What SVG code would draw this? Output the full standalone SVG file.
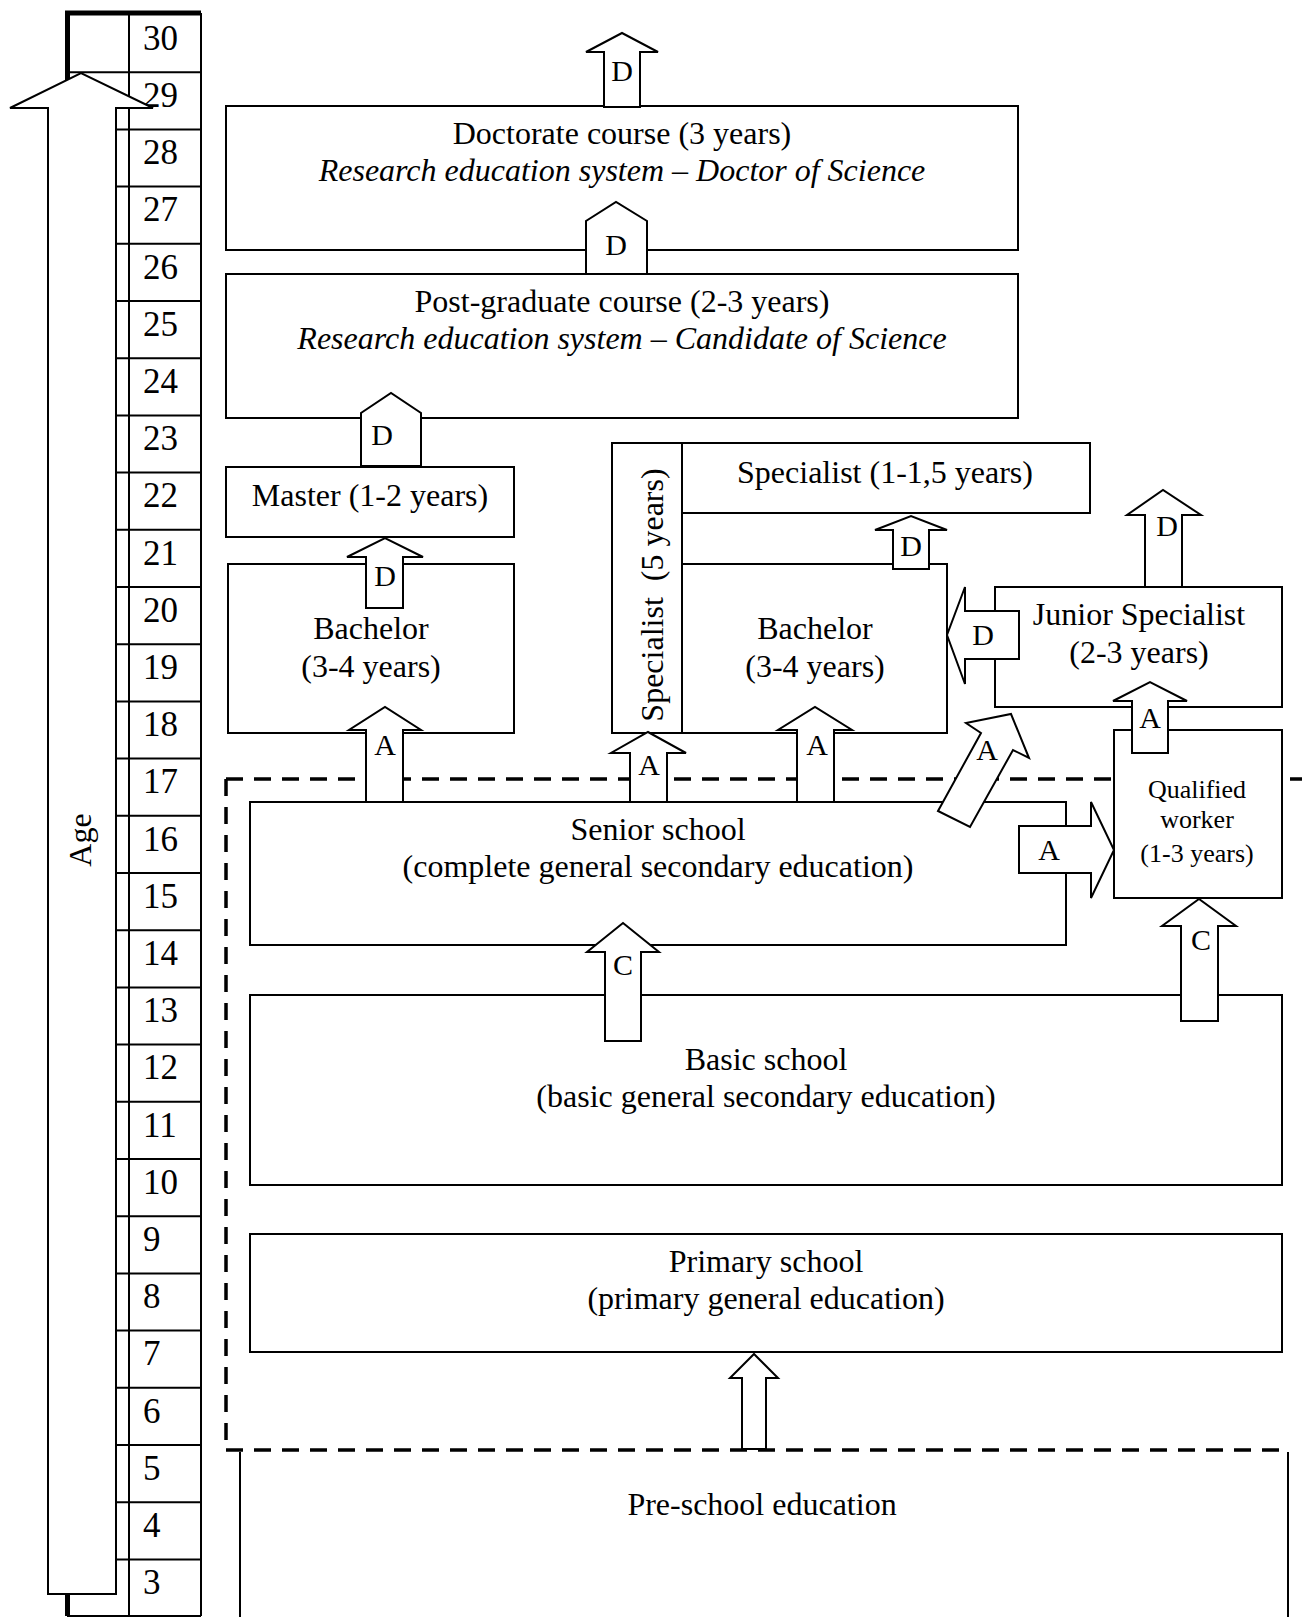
<svg xmlns="http://www.w3.org/2000/svg" width="1302" height="1617" viewBox="0 0 1302 1617">
<style>
.b{fill:#fff;stroke:#000;stroke-width:2}
.a{fill:#fff;stroke:#000;stroke-width:2;stroke-linejoin:miter}
.ln{fill:none;stroke:#000;stroke-width:2}
.dash{fill:none;stroke:#000;stroke-width:3.5;stroke-dasharray:17 11}
text{font-family:"Liberation Serif","Times New Roman",serif;font-size:32px;text-anchor:middle;fill:#000}
.i{font-style:italic}
.n{font-size:35px;text-anchor:start}
.s{font-size:26px}
.l{font-size:30px}
</style>
<rect width="1302" height="1617" fill="#fff"/>
<g id="age-table">
<path class="ln" d="M129,13 V1616 M201,13 V1616 M67,1616 H201"/>
<path class="ln" d="M67,72.2 H201 M67,129.4 H201 M67,186.6 H201 M67,243.8 H201 M67,301 H201 M67,358.2 H201 M67,415.4 H201 M67,472.6 H201 M67,529.8 H201 M67,587 H201 M67,644.2 H201 M67,701.4 H201 M67,758.6 H201 M67,815.8 H201 M67,873 H201 M67,930.2 H201 M67,987.4 H201 M67,1044.6 H201 M67,1101.8 H201 M67,1159 H201 M67,1216.2 H201 M67,1273.4 H201 M67,1330.6 H201 M67,1387.8 H201 M67,1445 H201 M67,1502.2 H201 M67,1559.4 H201"/>
<path d="M67.5,1616 V13 H201" fill="none" stroke="#000" stroke-width="5"/>
<text class="n" x="143" y="50">30</text>
<text class="n" x="143" y="107">29</text>
<text class="n" x="143" y="164">28</text>
<text class="n" x="143" y="221">27</text>
<text class="n" x="143" y="279">26</text>
<text class="n" x="143" y="336">25</text>
<text class="n" x="143" y="393">24</text>
<text class="n" x="143" y="450">23</text>
<text class="n" x="143" y="507">22</text>
<text class="n" x="143" y="565">21</text>
<text class="n" x="143" y="622">20</text>
<text class="n" x="143" y="679">19</text>
<text class="n" x="143" y="736">18</text>
<text class="n" x="143" y="793">17</text>
<text class="n" x="143" y="851">16</text>
<text class="n" x="143" y="908">15</text>
<text class="n" x="143" y="965">14</text>
<text class="n" x="143" y="1022">13</text>
<text class="n" x="143" y="1079">12</text>
<text class="n" x="143" y="1137">11</text>
<text class="n" x="143" y="1194">10</text>
<text class="n" x="143" y="1251">9</text>
<text class="n" x="143" y="1308">8</text>
<text class="n" x="143" y="1365">7</text>
<text class="n" x="143" y="1423">6</text>
<text class="n" x="143" y="1480">5</text>
<text class="n" x="143" y="1537">4</text>
<text class="n" x="143" y="1594">3</text>
</g>
<g id="age-arrow">
<polygon class="a" points="48,1594 48,108 10,108 81,73 153,108 116,108 116,1594"/>
<text transform="translate(91,840) rotate(-90)">Age</text>
</g>
<g id="dashed-border">
<path class="dash" d="M226,779 H1302 M226,779 V1450 M226,1450 H1290"/>
</g>
<g id="pre-school">
<path class="ln" d="M240,1452 V1617 M1288,1452 V1617"/>
<text x="762" y="1515">Pre-school education</text>
</g>
<g id="primary-school">
<rect class="b" x="250" y="1234" width="1032" height="118"/>
<text x="766" y="1272">Primary school</text>
<text x="766" y="1309">(primary general education)</text>
</g>
<g id="basic-school">
<rect class="b" x="250" y="995" width="1032" height="190"/>
<text x="766" y="1070">Basic school</text>
<text x="766" y="1107">(basic general secondary education)</text>
</g>
<g id="senior-school">
<rect class="b" x="250" y="802" width="816" height="143"/>
<text x="658" y="840">Senior school</text>
<text x="658" y="877">(complete general secondary education)</text>
</g>
<g id="qualified-worker">
<rect class="b" x="1114" y="730" width="168" height="168"/>
<text class="s" x="1197" y="798">Qualified</text>
<text class="s" x="1197" y="828">worker</text>
<text class="s" x="1197" y="862">(1-3 years)</text>
</g>
<g id="junior-specialist">
<rect class="b" x="995" y="587" width="287" height="120"/>
<text x="1139" y="625">Junior Specialist</text>
<text x="1139" y="663">(2-3 years)</text>
</g>
<g id="bachelor-2">
<rect class="b" x="682" y="564" width="265" height="169"/>
<text x="815" y="639">Bachelor</text>
<text x="815" y="677">(3-4 years)</text>
</g>
<g id="specialist-short">
<rect class="b" x="682" y="443" width="408" height="70"/>
<text x="885" y="483">Specialist (1-1,5 years)</text>
</g>
<g id="specialist-5">
<rect class="b" x="612" y="443" width="70" height="290"/>
<text transform="translate(663,595) rotate(-90)">Specialist&#160; (5 years)</text>
</g>
<g id="bachelor-1">
<rect class="b" x="228" y="564" width="286" height="169"/>
<text x="371" y="639">Bachelor</text>
<text x="371" y="677">(3-4 years)</text>
</g>
<g id="master">
<rect class="b" x="226" y="467" width="288" height="70"/>
<text x="370" y="506">Master (1-2 years)</text>
</g>
<g id="post-graduate">
<rect class="b" x="226" y="274" width="792" height="144"/>
<text x="622" y="312">Post-graduate course (2-3 years)</text>
<text class="i" x="622" y="349">Research education system – Candidate of Science</text>
</g>
<g id="doctorate">
<rect class="b" x="226" y="106" width="792" height="144"/>
<text x="622" y="144">Doctorate course (3 years)</text>
<text class="i" x="622" y="181">Research education system – Doctor of Science</text>
</g>
<g id="connectors">
<polygon class="a" points="604,107 604,52 586,52 622,33 658,52 640,52 640,107"/>
<text class="l" x="622" y="81">D</text>
<polygon class="a" points="586,274 586,221 616,202 647,221 647,274"/>
<text class="l" x="616" y="255">D</text>
<polygon class="a" points="361,466 361,413 391,393 421,413 421,466"/>
<text class="l" x="382" y="445">D</text>
<polygon class="a" points="366,608 366,557 347,557 385,538 423,557 403,557 403,608"/>
<text class="l" x="385" y="586">D</text>
<polygon class="a" points="366,802 366,730 349,730 385,707 421,730 403,730 403,802"/>
<text class="l" x="385" y="755">A</text>
<polygon class="a" points="630,802 630,753 611,753 648,732 686,753 667,753 667,802"/>
<text class="l" x="649" y="775">A</text>
<polygon class="a" points="797,802 797,730 778,730 815,707 852,730 834,730 834,802"/>
<text class="l" x="817" y="755">A</text>
<polygon class="a" points="893,569 893,530 875,530 911,516 947,530 929,530 929,569"/>
<text class="l" x="911" y="556">D</text>
<polygon class="a" points="1019,611 965,611 965,587 947,635 965,684 965,659 1019,659"/>
<text class="l" x="983" y="645">D</text>
<polygon class="a" points="1145,587 1145,515 1127,515 1163,490 1201,515 1182,515 1182,587"/>
<text class="l" x="1167" y="536">D</text>
<polygon class="a" points="1132,753 1132,701 1113,701 1150,682 1187,701 1168,701 1168,753"/>
<text class="l" x="1150" y="728">A</text>
<polygon class="a" points="938,811 981,733 966,723 1011,714 1029,758 1013,750 970,827"/>
<text class="l" x="987" y="760">A</text>
<polygon class="a" points="1019,826 1091,826 1091,802 1114,850 1091,898 1091,873 1019,873"/>
<text class="l" x="1049" y="860">A</text>
<polygon class="a" points="605,1041 605,952 587,952 623,923 659,952 641,952 641,1041"/>
<text class="l" x="623" y="975">C</text>
<polygon class="a" points="1181,1021 1181,926 1162,926 1199,899 1236,926 1218,926 1218,1021"/>
<text class="l" x="1201" y="950">C</text>
<polygon class="a" points="742,1449 742,1378 730,1378 754,1354 778,1378 766,1378 766,1449"/>
</g>
</svg>
